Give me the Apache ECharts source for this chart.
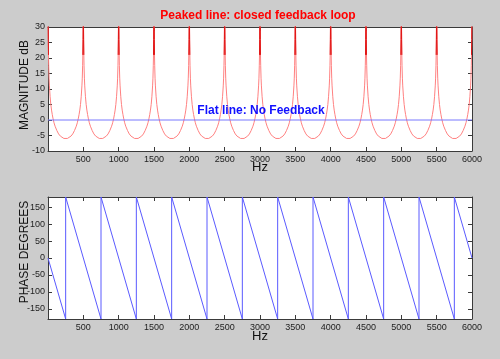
<!DOCTYPE html>
<html>
<head>
<meta charset="utf-8">
<script src="https://cdn.jsdelivr.net/npm/echarts@6/dist/echarts.min.js"></script>
<style>
html,body{margin:0;padding:0;background:#cccccc;}
#c{width:500px;height:359px;}
</style>
</head>
<body>
<div id="c"></div>
<script>
// ---- data ----
const xTicks = [500, 1000, 1500, 2000, 2500, 3000, 3500, 4000, 4500, 5000, 5500, 6000];
const magTicks = [-10, -5, 0, 5, 10, 15, 20, 25, 30];
const phaseTicks = [-150, -100, -50, 0, 50, 100, 150];

// peaks of the closed-loop magnitude (Hz)
const peakFreqs = [0, 500, 1000, 1500, 2000, 2500, 3000, 3500, 4000, 4500, 5000, 5500, 6000];
// one half-lobe: distance from a peak (Hz) and magnitude (dB)
const lobeOffsets = [0, 1, 2, 4, 7, 10, 15, 20, 30, 40, 50, 60, 70, 85, 100, 125, 150, 175, 200, 225, 250];
const lobeDb      = [60, 38, 32, 26, 21, 17.5, 13.5, 11, 7.5, 5, 3.2, 1.8, 0.6, -0.9, -2, -3.4, -4.5, -5.2, -5.7, -5.95, -6];

// open loop: flat line
const flatX = [0, 6000];
const flatY = [0, 0];

// phase (degrees) sawtooth corners
const phaseX = [0, 250, 250, 750, 750, 1250, 1250, 1750, 1750, 2250, 2250, 2750, 2750, 3250, 3250, 3750, 3750, 4250, 4250, 4750, 4750, 5250, 5250, 5750, 5750, 6000];
const phaseY = [0, -180, 180, -180, 180, -180, 180, -180, 180, -180, 180, -180, 180, -180, 180, -180, 180, -180, 180, -180, 180, -180, 180, -180, 180, 0];

// ---- build series tables ----
const magData = [];
for (let k = 0; k < peakFreqs.length - 1; k++) {
  const p = peakFreqs[k], q = peakFreqs[k + 1];
  for (let i = 0; i < lobeOffsets.length; i++) magData.push([p + lobeOffsets[i], lobeDb[i]]);
  for (let i = lobeOffsets.length - 2; i >= 1; i--) magData.push([q - lobeOffsets[i], lobeDb[i]]);
}
magData.push([peakFreqs[peakFreqs.length - 1], lobeDb[0]]);
// darker, overlapping part of each peak (top of the curve)
const peakData = [];
magData.forEach((d) => {
  if (d[1] >= 21) peakData.push(d);
  else if (peakData.length && peakData[peakData.length - 1] !== null) peakData.push(null);
});
const flatData = flatX.map((x, i) => [x, flatY[i]]);
const phaseData = phaseX.map((x, i) => [x, phaseY[i]]);

const FONT = 'Liberation Sans, Arial, sans-serif';
const axisLineStyle = {color: '#3a3a3a', width: 1};
function xAx(grid, pos, labels) {
  return {
    type: 'value', gridIndex: grid, position: pos, min: 0, max: 6000, interval: 500,
    axisLine: {show: true, onZero: false, lineStyle: axisLineStyle},
    axisTick: {show: true, inside: true, length: 4, lineStyle: {color: '#3a3a3a'}},
    axisLabel: {show: labels, fontSize: 9, color: '#222', margin: 4, fontFamily: FONT,
      formatter: v => (xTicks.indexOf(v) >= 0 ? String(v) : '')},
    splitLine: {show: false}
  };
}
function yAx(grid, pos, labels, min, max, ticks) {
  return {
    type: 'value', gridIndex: grid, position: pos, min: min, max: max,
    axisLine: {show: true, onZero: false, lineStyle: axisLineStyle},
    axisTick: {show: true, inside: true, length: 4, lineStyle: {color: '#3a3a3a'}, customValues: ticks},
    axisLabel: {show: labels, fontSize: 9, color: '#222', margin: 3, fontFamily: FONT, customValues: ticks},
    splitLine: {show: false}
  };
}

const chart = echarts.init(document.getElementById('c'), null, {renderer: 'canvas'});
chart.setOption({
  backgroundColor: '#cccccc',
  animation: false,
  grid: [
    {left: 48, top: 27, width: 424, height: 124, backgroundColor: '#ffffff', show: true, borderWidth: 0},
    {left: 48, top: 197, width: 424, height: 122, backgroundColor: '#ffffff', show: true, borderWidth: 0}
  ],
  xAxis: [xAx(0, 'bottom', true), xAx(0, 'top', false), xAx(1, 'bottom', true), xAx(1, 'top', false)],
  yAxis: [
    yAx(0, 'left', true, -10, 30, magTicks), yAx(0, 'right', false, -10, 30, magTicks),
    yAx(1, 'left', true, -180, 180, phaseTicks), yAx(1, 'right', false, -180, 180, phaseTicks)
  ],
  series: [
    {type: 'line', xAxisIndex: 0, yAxisIndex: 0, data: magData, showSymbol: false, clip: true,
      lineStyle: {width: 1, color: '#ff8080'}, itemStyle: {color: '#ff8080'}},
    {type: 'line', xAxisIndex: 0, yAxisIndex: 0, data: peakData, showSymbol: false, clip: true, connectNulls: false,
      lineStyle: {width: 1, color: '#e01515'}, itemStyle: {color: '#e01515'}},
    {type: 'line', xAxisIndex: 0, yAxisIndex: 0, data: flatData, showSymbol: false,
      lineStyle: {width: 1, color: '#7878ff'}, itemStyle: {color: '#7878ff'}},
    {type: 'line', xAxisIndex: 2, yAxisIndex: 2, data: phaseData, showSymbol: false, clip: true,
      lineStyle: {width: 1, color: '#5a5aff'}, itemStyle: {color: '#5a5aff'}}
  ],
  graphic: [
    {type: 'text', x: 258, y: 16, style: {text: 'Peaked line: closed feedback loop', font: 'bold 12px ' + FONT, fill: '#ff0000', textAlign: 'center', textVerticalAlign: 'middle'}},
    {type: 'text', x: 261, y: 111, z: 100, style: {text: 'Flat line: No Feedback', font: 'bold 12px ' + FONT, fill: '#1010ff', textAlign: 'center', textVerticalAlign: 'middle'}},
    {type: 'text', x: 25, y: 85, rotation: Math.PI / 2, style: {text: 'MAGNITUDE dB', font: '12px ' + FONT, fill: '#111', textAlign: 'center', textVerticalAlign: 'middle'}},
    {type: 'text', x: 260, y: 167, style: {text: 'Hz', font: '13px ' + FONT, fill: '#111', textAlign: 'center', textVerticalAlign: 'middle'}},
    {type: 'text', x: 25, y: 252, rotation: Math.PI / 2, style: {text: 'PHASE DEGREES', font: '12px ' + FONT, fill: '#111', textAlign: 'center', textVerticalAlign: 'middle'}},
    {type: 'text', x: 260, y: 336, style: {text: 'Hz', font: '13px ' + FONT, fill: '#111', textAlign: 'center', textVerticalAlign: 'middle'}}
  ]
});
</script>
</body>
</html>
